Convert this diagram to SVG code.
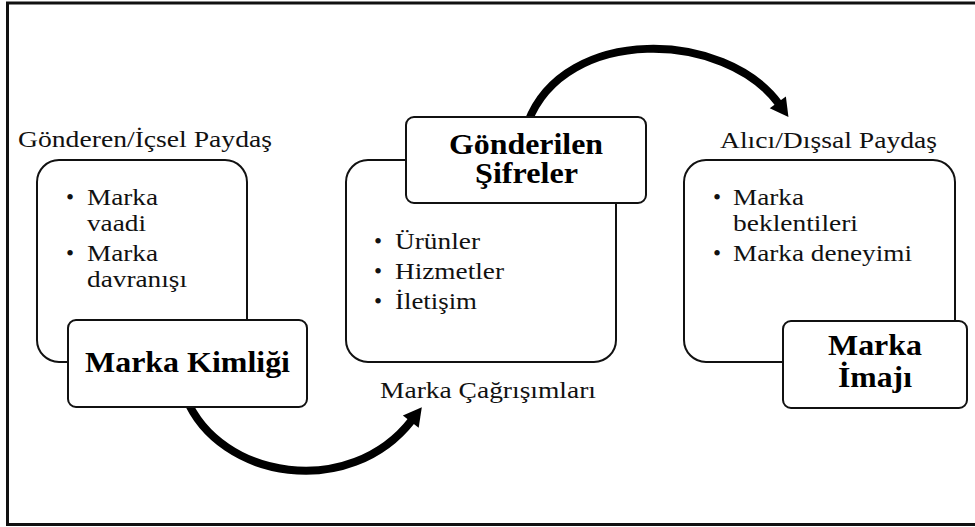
<svg xmlns="http://www.w3.org/2000/svg" width="975" height="527" viewBox="0 0 975 527">
  <style>
    .frame { fill: none; stroke: #111; stroke-width: 3; }
    .panel { fill: #fff; stroke: #111; stroke-width: 2; }
    .tag { fill: #fff; stroke: #111; stroke-width: 2; }
    .txt { font-family: "Liberation Serif", "Times New Roman", serif; font-size: 23px; fill: #111; }
    .head { font-family: "Liberation Serif", "Times New Roman", serif; font-size: 29px; font-weight: bold; fill: #000; }
    .flow { fill: none; stroke: #000; stroke-width: 8; }
  </style>
  <defs>
    <marker id="arrow" markerUnits="userSpaceOnUse" markerWidth="24" markerHeight="24" viewBox="0 -12 20 24" refX="2" refY="0" orient="auto">
      <path d="M0,-10 L18,0 L0,10 z" fill="#000"/>
    </marker>
  </defs>

  <rect width="975" height="527" fill="#fff"/>
  <!-- outer frame (open on the right) -->
  <path class="frame" d="M980,3 H7.5 V524.5 H980"/>

  <!-- connectors -->
  <g id="connectors">
    <path class="flow" d="M186,398 C220,480 350,500 412,420" marker-end="url(#arrow)"/>
    <path class="flow" d="M528,122 C565,25 725,30 779,104" marker-end="url(#arrow)"/>
  </g>

  <!-- sender / internal stakeholder -->
  <g id="sender">
    <text class="txt" x="18" y="147" textLength="254" lengthAdjust="spacingAndGlyphs">Gönderen/İçsel Paydaş</text>
    <rect class="panel" x="37" y="160" width="210" height="202" rx="22"/>
    <text class="txt" x="66" y="205">•</text>
    <text class="txt" x="87" y="205" textLength="71" lengthAdjust="spacingAndGlyphs">Marka</text>
    <text class="txt" x="87" y="231" textLength="59" lengthAdjust="spacingAndGlyphs">vaadi</text>
    <text class="txt" x="66" y="261">•</text>
    <text class="txt" x="87" y="261" textLength="71" lengthAdjust="spacingAndGlyphs">Marka</text>
    <text class="txt" x="87" y="287" textLength="100" lengthAdjust="spacingAndGlyphs">davranışı</text>
  </g>
  <g id="identity">
    <rect class="tag" x="68" y="320" width="239" height="87" rx="8"/>
    <text class="head" x="85" y="372" textLength="205" lengthAdjust="spacingAndGlyphs">Marka Kimliği</text>
  </g>

  <!-- transmitted codes -->
  <g id="codes">
    <rect class="panel" x="346" y="160" width="270" height="202" rx="22"/>
    <text class="txt" x="374" y="249">•</text>
    <text class="txt" x="395" y="249" textLength="85" lengthAdjust="spacingAndGlyphs">Ürünler</text>
    <text class="txt" x="374" y="279">•</text>
    <text class="txt" x="395" y="279" textLength="109" lengthAdjust="spacingAndGlyphs">Hizmetler</text>
    <text class="txt" x="374" y="309">•</text>
    <text class="txt" x="395" y="309" textLength="82" lengthAdjust="spacingAndGlyphs">İletişim</text>
    <text class="txt" x="380" y="398" textLength="216" lengthAdjust="spacingAndGlyphs">Marka Çağrışımları</text>
  </g>
  <g id="codes-title">
    <rect class="tag" x="406" y="117" width="240" height="86" rx="8"/>
    <text class="head" x="449" y="154" textLength="154" lengthAdjust="spacingAndGlyphs">Gönderilen</text>
    <text class="head" x="475" y="183" textLength="103" lengthAdjust="spacingAndGlyphs">Şifreler</text>
  </g>

  <!-- receiver / external stakeholder -->
  <g id="receiver">
    <text class="txt" x="720" y="148" textLength="217" lengthAdjust="spacingAndGlyphs">Alıcı/Dışsal Paydaş</text>
    <rect class="panel" x="684" y="160" width="271" height="202" rx="22"/>
    <text class="txt" x="713" y="205">•</text>
    <text class="txt" x="733" y="205" textLength="71" lengthAdjust="spacingAndGlyphs">Marka</text>
    <text class="txt" x="733" y="231" textLength="125" lengthAdjust="spacingAndGlyphs">beklentileri</text>
    <text class="txt" x="713" y="261">•</text>
    <text class="txt" x="733" y="261" textLength="179" lengthAdjust="spacingAndGlyphs">Marka deneyimi</text>
  </g>
  <g id="image">
    <rect class="tag" x="783" y="321" width="184" height="87" rx="8"/>
    <text class="head" x="828" y="355" textLength="94" lengthAdjust="spacingAndGlyphs">Marka</text>
    <text class="head" x="838" y="387" textLength="74" lengthAdjust="spacingAndGlyphs">İmajı</text>
  </g>
</svg>
